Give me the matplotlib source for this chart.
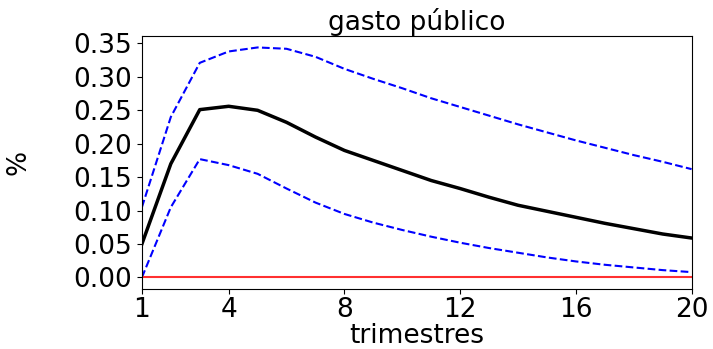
import numpy as np
import matplotlib.pyplot as plt

# trimestres 1..20
trimestres = np.arange(1, 21)

respuesta = [0.050, 0.170, 0.251, 0.256, 0.250, 0.232, 0.210, 0.190, 0.175, 0.160,
             0.145, 0.133, 0.120, 0.108, 0.099, 0.090, 0.081, 0.073, 0.065, 0.059]
banda_sup = [0.105, 0.240, 0.321, 0.338, 0.344, 0.342, 0.330, 0.312, 0.297, 0.283,
             0.268, 0.255, 0.242, 0.229, 0.217, 0.205, 0.194, 0.183, 0.173, 0.162]
banda_inf = [0.000, 0.105, 0.177, 0.168, 0.155, 0.133, 0.112, 0.095, 0.082, 0.071,
             0.061, 0.052, 0.044, 0.037, 0.030, 0.024, 0.019, 0.015, 0.011, 0.008]
cero = [0.0] * len(trimestres)

xticks = [1, 4, 8, 12, 16, 20]

fig = plt.figure(figsize=(7.13, 3.49), dpi=100)
ax = fig.add_axes([0.199, 0.172, 0.771, 0.725])

ax.plot(trimestres, respuesta, color='black', linewidth=2.5)
ax.plot(trimestres, banda_sup, color='blue', linestyle='--', linewidth=1.5)
ax.plot(trimestres, banda_inf, color='blue', linestyle='--', linewidth=1.5)
ax.plot(trimestres, cero, color='#ff3030', linewidth=1.5)

ax.set_xlim(1, 20)
ax.set_xticks(xticks)
ax.set_yticks(np.arange(0, 0.36, 0.05))
ax.yaxis.set_major_formatter(plt.FormatStrFormatter('%.2f'))
ax.tick_params(labelsize=19)
ax.tick_params(axis='x', pad=2)

ax.set_title("gasto público", fontsize=19, pad=4)
ax.set_xlabel("trimestres", fontsize=19, labelpad=0)
ax.set_ylabel("%", fontsize=19, labelpad=30)

fig.savefig("out.png", dpi=100)
